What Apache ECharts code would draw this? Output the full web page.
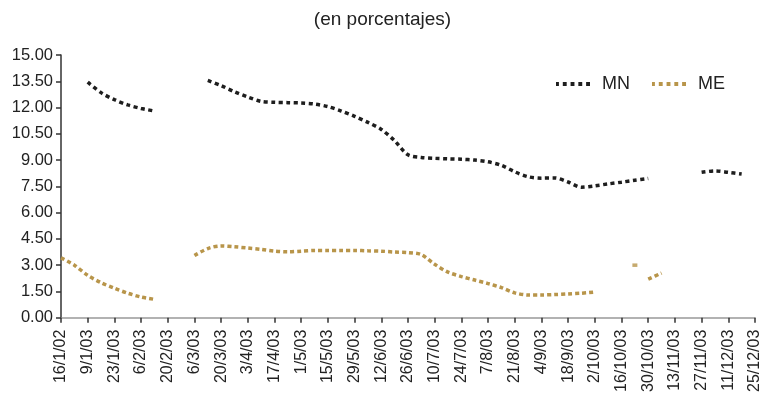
<!DOCTYPE html>
<html>
<head>
<meta charset="utf-8">
<script src="https://cdn.jsdelivr.net/npm/echarts@6/dist/echarts.min.js"></script>
<style>
  html, body { margin: 0; padding: 0; background: #fff; }
  #chart { width: 765px; height: 395px; }
</style>
</head>
<body>
<div id="chart"></div>
<script>
// tick labels, one every two weeks
const tickLabels = ['16/1/02', '9/1/03', '23/1/03', '6/2/03', '20/2/03', '6/3/03', '20/3/03',
  '3/4/03', '17/4/03', '1/5/03', '15/5/03', '29/5/03', '12/6/03', '26/6/03', '10/7/03',
  '24/7/03', '7/8/03', '21/8/03', '4/9/03', '18/9/03', '2/10/03', '16/10/03', '30/10/03',
  '13/11/03', '27/11/03', '11/12/03', '25/12/03']

// weekly values (53 weeks), null = no data
const mn = [
  null, null, 13.45, 12.85, 12.45, 12.15, 11.95, 11.8, null, null,
  null, 13.55, 13.25, 12.9, 12.6, 12.35, 12.3, 12.28, 12.26, 12.2,
  12.05, 11.8, 11.5, 11.15, 10.75, 10.1, 9.3, 9.15, 9.1, 9.07,
  9.05, 9.0, 8.9, 8.7, 8.33, 8.05, 7.97, 7.98, 7.75, 7.45,
  7.53, 7.64, 7.74, 7.85, 7.95, null, null, null, 8.3, 8.38,
  8.3, 8.2, null
]
const me = [
  3.42, 3.0, 2.42, 2.0, 1.68, 1.4, 1.18, 1.05, null, null,
  3.55, 3.95, 4.1, 4.05, 3.98, 3.9, 3.8, 3.76, 3.8, 3.84,
  3.84, 3.84, 3.84, 3.82, 3.8, 3.75, 3.72, 3.6, 3.05, 2.6,
  2.35, 2.15, 1.95, 1.72, 1.42, 1.3, 1.3, 1.32, 1.36, 1.4,
  1.47, null, null, null, 2.2, 2.55, null, null, null, null,
  null, null, null
]
// isolated ME observation (week index, value)
const meLone = [[43, 3.0]]

const weeks = []
tickLabels.forEach((l, i) => {
  weeks.push(l)
  if (i < tickLabels.length - 1) weeks.push('')
})

const MN_COLOR = '#1e1e1e'
const ME_COLOR = '#b8954a'
const dashIcon = 'path://M0,0h3v4h-3z M7,0h4v4h-4z M15,0h4v4h-4z M23,0h4v4h-4z M31,0h4v4h-4z'

const chart = echarts.init(document.getElementById('chart'), null, { renderer: 'canvas' })
const font = 'Liberation Sans, Arial, sans-serif'

chart.setOption({
  animation: false,
  textStyle: { fontFamily: font },
  title: {
    text: '(en porcentajes)',
    left: 'center',
    top: 5,
    textStyle: { fontSize: 19, fontWeight: 'normal', color: '#222', fontFamily: font }
  },
  legend: {
    data: ['MN', 'ME'],
    left: 551,
    top: 70,
    icon: dashIcon,
    itemWidth: 34,
    itemHeight: 4,
    itemGap: 22,
    textStyle: { fontSize: 18, color: '#222', fontFamily: font, padding: [0, 0, 0, 7] }
  },
  grid: { left: 61, right: 10, top: 55, bottom: 77, containLabel: false },
  xAxis: {
    type: 'category',
    data: weeks,
    boundaryGap: false,
    axisLine: { lineStyle: { color: '#999', width: 1.5 } },
    axisTick: { interval: 1, length: 5, lineStyle: { color: '#333', width: 1.5 } },
    axisLabel: { interval: 1, rotate: 90, margin: 12, fontSize: 16, color: '#222', fontFamily: font }
  },
  yAxis: {
    type: 'value',
    min: 0,
    max: 15,
    interval: 1.5,
    splitLine: { show: false },
    axisLine: { show: true, lineStyle: { color: '#333', width: 1.5 } },
    axisTick: { show: true, length: 5, lineStyle: { color: '#333', width: 1.5 } },
    axisLabel: { fontSize: 16.5, color: '#222', margin: 8, fontFamily: font, formatter: (v) => v.toFixed(2) }
  },
  series: [
    {
      name: 'MN',
      type: 'line',
      data: mn,
      connectNulls: false,
      smooth: 0.3,
      symbol: 'none',
      itemStyle: { color: MN_COLOR },
      lineStyle: { color: MN_COLOR, width: 3.5, type: [4, 3.5] }
    },
    {
      name: 'ME',
      type: 'line',
      data: me,
      connectNulls: false,
      smooth: 0.3,
      symbol: 'none',
      itemStyle: { color: ME_COLOR },
      lineStyle: { color: ME_COLOR, width: 3.5, type: [4, 3] }
    },
    {
      name: 'ME',
      type: 'scatter',
      data: meLone,
      symbol: 'rect',
      symbolSize: [5, 3.5],
      itemStyle: { color: ME_COLOR }
    }
  ]
})
</script>
</body>
</html>
